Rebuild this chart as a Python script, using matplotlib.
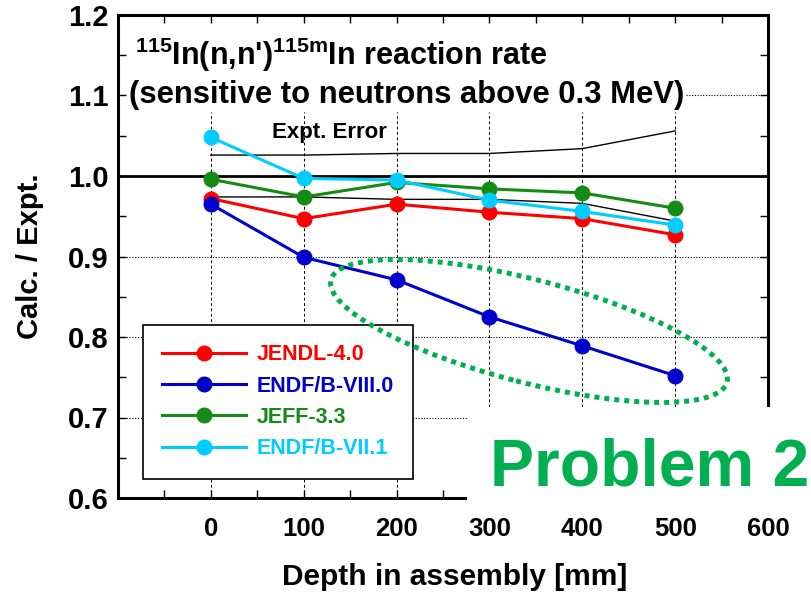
import matplotlib
matplotlib.use("Agg")
import matplotlib.pyplot as plt
from matplotlib.patches import Ellipse, Rectangle
from matplotlib.transforms import IdentityTransform

depth = [0, 100, 200, 300, 400, 500]
jendl = [0.972, 0.947, 0.965, 0.955, 0.947, 0.927]
endf8 = [0.965, 0.899, 0.871, 0.825, 0.789, 0.752]
jeff = [0.996, 0.974, 0.992, 0.984, 0.979, 0.960]
endf7 = [1.048, 0.997, 0.995, 0.970, 0.956, 0.939]
err_hi = [1.026, 1.026, 1.028, 1.028, 1.034, 1.056]
err_lo = [0.974, 0.974, 0.971, 0.971, 0.966, 0.944]

names = ["JENDL-4.0", "ENDF/B-VIII.0", "JEFF-3.3", "ENDF/B-VII.1"]
colors = ["#ff0000", "#0000cc", "#158a15", "#00ccff"]

plt.rcParams["font.family"] = ["Liberation Sans", "DejaVu Sans"]
plt.rcParams["font.weight"] = "bold"
plt.rcParams["mathtext.fontset"] = "custom"
plt.rcParams["mathtext.rm"] = "Liberation Sans:bold"
plt.rcParams["mathtext.bf"] = "Liberation Sans:bold"

fig = plt.figure(figsize=(8.12, 5.94), dpi=100)
ax = fig.add_axes([118 / 812, 96 / 594, 650 / 812, 483 / 594])
ax.set_xlim(-100, 600)
ax.set_ylim(0.6, 1.2)

# grid drawn by hand so the title block stays clear
for x in depth:
    ax.plot([x, x], [0.6, 1.079], color="black", lw=0.7, ls=(0, (3, 2.5)), zorder=1)
for y in [0.7, 0.8, 0.9]:
    ax.plot([-100, 600], [y, y], color="black", lw=0.8, ls=(0, (1, 1.5)), zorder=1)
ax.plot([512, 600], [1.1, 1.1], color="black", lw=0.8, ls=(0, (1, 1.5)), zorder=1)
ax.axhline(1.0, color="black", lw=2, zorder=2)

ax.plot(depth, err_hi, color="black", lw=1, zorder=3)
ax.plot(depth, err_lo, color="black", lw=1, zorder=3)
ax.text(66, 1.054, "Expt. Error", fontsize=16, va="center", zorder=3)

series = [jendl, endf8, jeff, endf7]
handles = []
for vals, name, c in zip(series, names, colors):
    h, = ax.plot(depth, vals, color=c, lw=2.2, marker="o", ms=10.5, label=name, zorder=4)
    handles.append(h)

ax.text(-82, 1.138, r"$^{\mathrm{115}}$In(n,n')$^{\mathrm{115m}}$In reaction rate",
        fontsize=22, va="baseline", ha="left")
ax.text(-88, 1.0907, "(sensitive to neutrons above 0.3 MeV)",
        fontsize=22.3, va="baseline", ha="left")

leg = ax.legend(handles=handles, loc="lower left", bbox_to_anchor=(0.038, 0.04),
                fontsize=15.5, labelcolor="linecolor", frameon=True, fancybox=False,
                edgecolor="black", framealpha=1, handlelength=3.9, handletextpad=0.5,
                labelspacing=0.48, borderpad=0.9, borderaxespad=0)
leg.get_frame().set_linewidth(1.2)
leg.set_zorder(6)

ax.set_xticks([0, 100, 200, 300, 400, 500, 600])
ax.set_xticks(range(-50, 600, 100), minor=True)
ax.set_yticks([0.6, 0.7, 0.8, 0.9, 1.0, 1.1, 1.2])
ax.set_yticks([0.65, 0.75, 0.85, 0.95, 1.05, 1.15], minor=True)
ax.set_yticklabels(["0.6", "0.7", "0.8", "0.9", "1.0", "1.1", "1.2"])
ax.tick_params(which="both", direction="in", top=True, right=True, width=1, length=6)
ax.tick_params(axis="x", labelsize=18.5, pad=14)
ax.tick_params(axis="y", labelsize=21, pad=7)
for s in ax.spines.values():
    s.set_linewidth(2.2)

ax.set_xlabel("Depth in assembly [mm]", fontsize=21.5, fontweight="bold")
ax.set_ylabel("Calc. / Expt.", fontsize=21, fontweight="bold")
ax.xaxis.set_label_coords(0.518, -0.1636)
ax.xaxis.label.set_va("center")
ax.yaxis.set_label_coords(-0.135, 0.5)
ax.yaxis.label.set_va("center")

# slide overlay: dotted ellipse and the white box with the "Problem 2" label
ell = Ellipse((529, 594 - 331), 409, 103, angle=-14.5, fill=False,
              edgecolor="#00b050", lw=3.6, ls=(0, (1, 1)), transform=IdentityTransform(),
              zorder=8)
fig.add_artist(ell)
fig.add_artist(Rectangle((467, 86), 345, 101, facecolor="white", edgecolor="none",
                         transform=IdentityTransform(), zorder=9))
fig.text(490 / 812, 109 / 594, "Problem 2", fontsize=47.5, color="#00b050",
         weight="bold", va="baseline", ha="left", zorder=10)

fig.savefig("out.png", dpi=100)
